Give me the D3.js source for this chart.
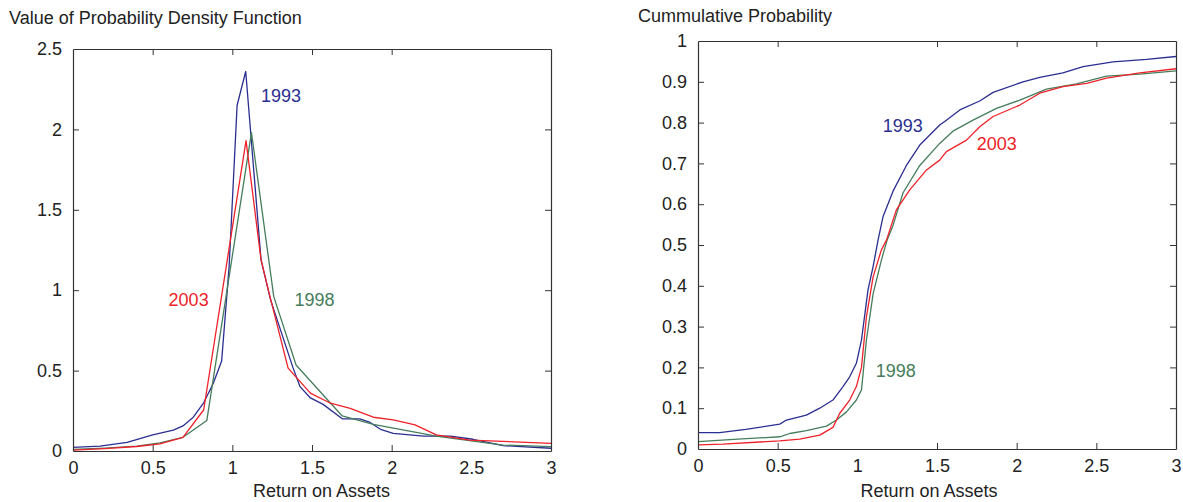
<!DOCTYPE html>
<html>
<head>
<meta charset="utf-8">
<script src="https://cdn.jsdelivr.net/npm/d3@7"></script>
<style>
  body { margin: 0; background: #fff; }
  text { font-family: "Liberation Sans", Arial, sans-serif; fill: #222; }
</style>
</head>
<body>
<div id="chart"></div>
<script>
// x ticks shared by both panels
const xTicks = [0, 0.5, 1, 1.5, 2, 2.5, 3];
const pdfTicks = [0, 0.5, 1, 1.5, 2, 2.5];
const cdfTicks = [0, 0.1, 0.2, 0.3, 0.4, 0.5, 0.6, 0.7, 0.8, 0.9, 1];
const years = ["1993", "1998", "2003"];

// density estimates, [return, density]
const pdf1993 = [[0,0.023],[0.17,0.03],[0.34,0.054],[0.5,0.10],[0.63,0.13],[0.69,0.156],[0.755,0.21],[0.82,0.30],[0.88,0.42],[0.933,0.56],[0.98,1.15],[1.03,2.15],[1.084,2.36],[1.18,1.19],[1.24,0.94],[1.38,0.52],[1.425,0.40],[1.49,0.33],[1.57,0.29],[1.69,0.20],[1.80,0.20],[1.86,0.18],[1.93,0.135],[2.01,0.11],[2.20,0.093],[2.37,0.093],[2.51,0.073],[2.70,0.033],[3.0,0.017]];
const pdf1998 = [[0,0.01],[0.2,0.018],[0.4,0.03],[0.546,0.05],[0.69,0.085],[0.84,0.19],[1.12,1.98],[1.26,0.96],[1.40,0.535],[1.55,0.37],[1.69,0.218],[1.885,0.165],[2.28,0.093],[2.51,0.062],[2.70,0.037],[3.0,0.027]];
const pdf2003 = [[0,0.006],[0.2,0.015],[0.4,0.028],[0.546,0.044],[0.69,0.085],[0.82,0.255],[1.086,1.93],[1.18,1.19],[1.226,1.0],[1.35,0.515],[1.49,0.36],[1.61,0.30],[1.74,0.265],[1.885,0.21],[2.01,0.193],[2.147,0.162],[2.28,0.10],[2.49,0.068],[3.0,0.048]];

// empirical cumulative distributions, [return, probability]
const cdf1993 = [[0,0.04],[0.136,0.04],[0.3,0.048],[0.513,0.061],[0.555,0.071],[0.68,0.083],[0.764,0.10],[0.847,0.12],[0.91,0.153],[0.952,0.177],[0.994,0.21],[1.026,0.267],[1.067,0.39],[1.099,0.447],[1.13,0.512],[1.161,0.569],[1.224,0.632],[1.308,0.695],[1.392,0.745],[1.517,0.794],[1.559,0.806],[1.643,0.831],[1.768,0.853],[1.852,0.874],[2.04,0.90],[2.145,0.911],[2.29,0.922],[2.417,0.937],[2.605,0.949],[2.815,0.955],[3.0,0.962]];
const cdf1998 = [[0,0.018],[0.25,0.024],[0.513,0.030],[0.576,0.038],[0.68,0.045],[0.806,0.056],[0.869,0.071],[0.932,0.091],[0.994,0.12],[1.026,0.145],[1.057,0.267],[1.099,0.38],[1.151,0.463],[1.187,0.512],[1.224,0.548],[1.287,0.628],[1.392,0.695],[1.517,0.749],[1.60,0.779],[1.726,0.806],[1.873,0.835],[2.02,0.855],[2.187,0.882],[2.375,0.895],[2.564,0.914],[2.773,0.919],[3.0,0.927]];
const cdf2003 = [[0,0.01],[0.157,0.012],[0.513,0.020],[0.638,0.024],[0.764,0.034],[0.847,0.053],[0.889,0.087],[0.952,0.12],[0.994,0.153],[1.026,0.20],[1.057,0.324],[1.099,0.422],[1.151,0.488],[1.183,0.512],[1.245,0.586],[1.329,0.635],[1.434,0.684],[1.517,0.708],[1.559,0.729],[1.685,0.757],[1.768,0.79],[1.852,0.815],[2.02,0.843],[2.145,0.872],[2.29,0.888],[2.44,0.896],[2.564,0.909],[2.773,0.922],[3.0,0.932]];

const colors = { "1993": "#2b2e91", "1998": "#467d5c", "2003": "#ee2229" };

const width = 1183;
const height = 502;

const svg = d3
  .select("#chart")
  .append("svg")
  .attr("width", width)
  .attr("height", height);

function panel(opts) {
  const x = d3.scaleLinear().domain([0, 3]).range([opts.left, opts.right]);
  const y = d3.scaleLinear().domain(opts.yDomain).range([opts.bottom, opts.top]);
  const g = svg.append("g");

  // curves
  const line = d3.line().x(d => x(d[0])).y(d => y(d[1]));
  opts.series.forEach(s => {
    g.append("path")
      .datum(s.data)
      .attr("fill", "none")
      .attr("stroke", colors[s.year])
      .attr("stroke-width", 1.3)
      .attr("stroke-linejoin", "round")
      .attr("d", line);
  });

  // matlab-style box with inward ticks on every side
  const tick = 6;
  g.append("g")
    .attr("transform", "translate(0," + opts.bottom + ")")
    .call(d3.axisBottom(x).tickValues(xTicks).tickSizeInner(-tick).tickSizeOuter(0).tickPadding(10).tickFormat(d3.format("")))
    .call(a => a.selectAll("text").style("font-size", "18px").attr("fill", "#222"));
  g.append("g")
    .attr("transform", "translate(0," + opts.top + ")")
    .call(d3.axisTop(x).tickValues(xTicks).tickSizeInner(-tick).tickSizeOuter(0).tickFormat(""));
  g.append("g")
    .attr("transform", "translate(" + opts.left + ",0)")
    .call(d3.axisLeft(y).tickValues(opts.yTicks).tickSizeInner(-tick).tickSizeOuter(0).tickPadding(11).tickFormat(d3.format("")))
    .call(a => a.selectAll("text").style("font-size", "18px").attr("fill", "#222"));
  g.append("g")
    .attr("transform", "translate(" + opts.right + ",0)")
    .call(d3.axisRight(y).tickValues(opts.yTicks).tickSizeInner(-tick).tickSizeOuter(0).tickFormat(""));
  g.selectAll(".domain").attr("stroke", "#333").attr("stroke-width", 1.2);
  g.selectAll(".tick line").attr("stroke", "#333");
  // hide end ticks that would sit on the box corners
  g.selectAll(".tick line").filter(d => d === 0 || d === 3 || d === opts.yDomain[1]).remove();

  // titles
  g.append("text")
    .attr("x", opts.titleX)
    .attr("y", opts.titleY)
    .style("font-size", "18px")
    .text(opts.title);
  g.append("text")
    .attr("x", x(opts.xLabelAt))
    .attr("y", 497)
    .attr("text-anchor", "middle")
    .style("font-size", "18px")
    .text("Return on Assets");

  // year labels next to curves
  opts.labels.forEach(l => {
    g.append("text")
      .attr("x", x(l.x))
      .attr("y", y(l.y))
      .style("font-size", "18px")
      .style("fill", colors[l.year])
      .text(l.year);
  });
}

panel({
  left: 73, right: 551, top: 49, bottom: 451,
  yDomain: [0, 2.5], yTicks: pdfTicks,
  title: "Value of Probability Density Function", titleX: 9, titleY: 24,
  xLabelAt: 1.56,
  series: [
    { year: "1993", data: pdf1993 },
    { year: "1998", data: pdf1998 },
    { year: "2003", data: pdf2003 }
  ],
  labels: [
    { year: "1993", x: 1.18, y: 2.17 },
    { year: "2003", x: 0.6, y: 0.9 },
    { year: "1998", x: 1.39, y: 0.9 }
  ]
});

panel({
  left: 698, right: 1176, top: 41, bottom: 449,
  yDomain: [0, 1], yTicks: cdfTicks,
  title: "Cummulative Probability", titleX: 638, titleY: 22,
  xLabelAt: 1.45,
  series: [
    { year: "1993", data: cdf1993 },
    { year: "1998", data: cdf1998 },
    { year: "2003", data: cdf2003 }
  ],
  labels: [
    { year: "1993", x: 1.16, y: 0.778 },
    { year: "2003", x: 1.75, y: 0.732 },
    { year: "1998", x: 1.115, y: 0.177 }
  ]
});
</script>
</body>
</html>
